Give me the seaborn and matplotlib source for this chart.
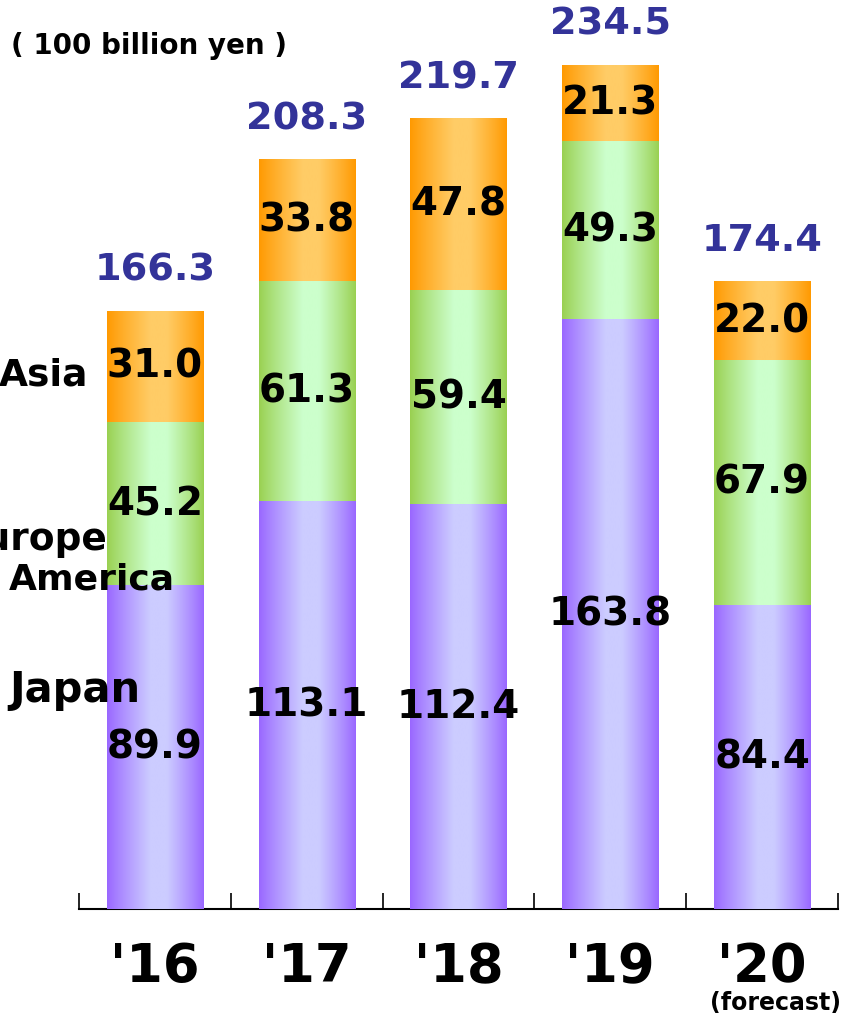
import numpy as np
import pandas as pd
import matplotlib
matplotlib.use("Agg")
import matplotlib.pyplot as plt
import seaborn as sns
from matplotlib.colors import to_rgb

# Sales by region (100 billion yen)
years = ["'16", "'17", "'18", "'19", "'20"]
japan = [89.9, 113.1, 112.4, 163.8, 84.4]
europe_america = [45.2, 61.3, 59.4, 49.3, 67.9]
asia = [31.0, 33.8, 47.8, 21.3, 22.0]
totals = [166.3, 208.3, 219.7, 234.5, 174.4]

sns.set_theme(style="white")
plt.rcParams["font.family"] = ["DejaVu Sans"]
plt.rcParams["text.color"] = "black"
plt.rcParams["xtick.color"] = "black"
plt.rcParams["xtick.labelcolor"] = "black"

W, H = 853, 1018
fig = plt.figure(figsize=(W / 100, H / 100), dpi=100)
ax = fig.add_axes([79 / W, 109 / H, 759 / W, 909 / H])

df = pd.DataFrame({"year": years, "japan": japan,
                   "europe_america": europe_america, "asia": asia})
df["jp_eu"] = df["japan"] + df["europe_america"]
df["stack"] = df["jp_eu"] + df["asia"]

# colour pairs: (edge, centre) for the horizontal gradient of each region
palette = {
    "stack": ("#ff9900", "#ffcc66"),
    "jp_eu": ("#99d050", "#ccffcc"),
    "japan": ("#9966ff", "#ccccff"),
}

prof = np.interp(np.linspace(0, 1, 256), [0, 0.45, 0.62, 1], [0, 1, 1, 0])
prof = prof ** 0.9

layers = ["stack", "jp_eu", "japan"]
geoms = {}
for z, col in enumerate(layers):
    n_before = len(ax.patches)
    sns.barplot(data=df, x="year", y=col, order=years, color=palette[col][0],
                width=0.635, ax=ax, saturation=1, errorbar=None)
    bars = ax.patches[n_before:]
    geoms[col] = []
    edge = np.array(to_rgb(palette[col][0]))
    centre = np.array(to_rgb(palette[col][1]))
    grad = edge[None, :] * (1 - prof[:, None]) + centre[None, :] * prof[:, None]
    img = grad[None, :, :]
    for p in bars:
        x0, w, h = p.get_x(), p.get_width(), p.get_height()
        geoms[col].append((x0, w, h))
        ax.imshow(img, extent=(x0, x0 + w, 0, h), aspect="auto",
                  interpolation="bilinear", zorder=2 + z)
        p.set_visible(False)

ax.set_xlim(-0.5, 4.5)
ax.set_ylim(0, 252.5)

# segment value labels
label_font = dict(fontsize=28, fontweight="bold", color="black",
                  ha="center", va="center", zorder=10)
for i in range(len(years)):
    xc = geoms["japan"][i][0] + geoms["japan"][i][1] / 2
    ax.text(xc, japan[i] / 2, f"{japan[i]:.1f}", **label_font)
    ax.text(xc, japan[i] + europe_america[i] / 2,
            f"{europe_america[i]:.1f}", **label_font)
    ax.text(xc, df["jp_eu"][i] + asia[i] / 2, f"{asia[i]:.1f}", **label_font)
    ax.annotate(f"{totals[i]:.1f}", xy=(xc, df["stack"][i]),
                xytext=(0, 29), textcoords="offset points",
                ha="center", va="center", fontsize=27.5, fontweight="bold",
                color="#333399", zorder=10)

# axis styling
for s in ["top", "left", "right"]:
    ax.spines[s].set_visible(False)
ax.spines["bottom"].set_color("black")
ax.spines["bottom"].set_linewidth(1.5)
ax.set_yticks([])
ax.set_xlabel("")
ax.set_ylabel("")
ax.set_xticks(range(len(years)))
ax.set_xticklabels(years, fontsize=38, fontweight="bold", color="black")
ax.set_xticks(np.arange(-0.5, len(years), 1.0), minor=True)
ax.tick_params(axis="x", which="major", length=0, pad=23)
ax.tick_params(axis="x", which="minor", direction="in", length=11.5,
               width=1.2, color="black", bottom=True)
ax.grid(False)

fig.text(776 / W, 1 - 1003 / H, "(forecast)", fontsize=17, fontweight="bold",
         ha="center", va="center")

# region names and unit
fig.text(149 / W, 1 - 46 / H, "( 100 billion yen )", fontsize=20,
         fontweight="bold", ha="center", va="center")
region_font = dict(fontweight="bold", va="center", zorder=20)
fig.text(44 / W, 1 - 375 / H, "Asia", ha="center", fontsize=27, **region_font)
fig.text(107 / W, 1 - 540 / H, "Europe", ha="right", fontsize=27, **region_font)
fig.text(92 / W, 1 - 580 / H, "America", ha="center", fontsize=26, **region_font)
fig.text(75 / W, 1 - 690 / H, "Japan", ha="center", fontsize=30, **region_font)

fig.savefig("out.png", dpi=100)
